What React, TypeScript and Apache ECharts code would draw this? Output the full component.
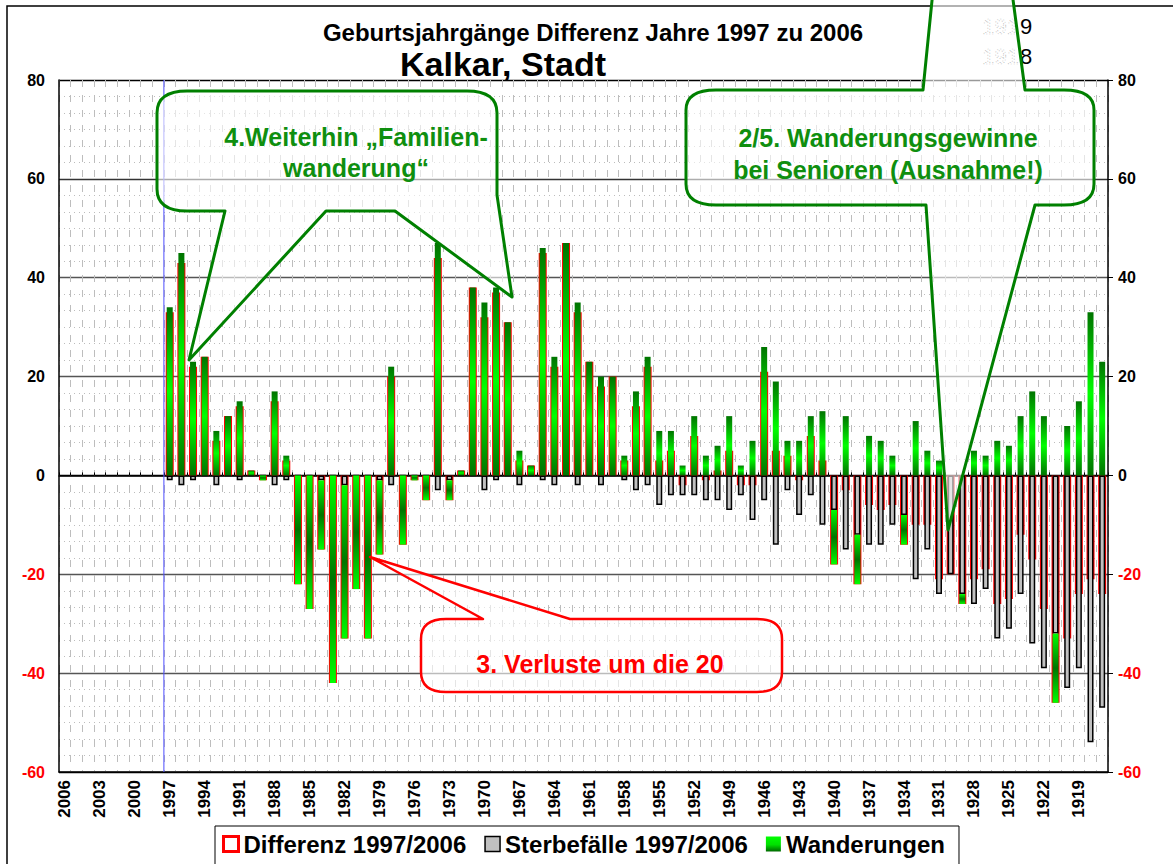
import React, { useEffect, useRef } from "react";
import * as echarts from "echarts";

const FONT = '"Liberation Sans", Arial, Helvetica, sans-serif';

// Birth-year cohorts (x axis), 2006 down to 1917
const categories = [
  "2006", "2005", "2004", "2003", "2002", "2001", "2000", "1999", "1998", "1997",
  "1996", "1995", "1994", "1993", "1992", "1991", "1990", "1989", "1988", "1987",
  "1986", "1985", "1984", "1983", "1982", "1981", "1980", "1979", "1978", "1977",
  "1976", "1975", "1974", "1973", "1972", "1971", "1970", "1969", "1968", "1967",
  "1966", "1965", "1964", "1963", "1962", "1961", "1960", "1959", "1958", "1957",
  "1956", "1955", "1954", "1953", "1952", "1951", "1950", "1949", "1948", "1947",
  "1946", "1945", "1944", "1943", "1942", "1941", "1940", "1939", "1938", "1937",
  "1936", "1935", "1934", "1933", "1932", "1931", "1930", "1929", "1928", "1927",
  "1926", "1925", "1924", "1923", "1922", "1921", "1920", "1919", "1918", "1917",
];

const differenz: (number | null)[] = [
  null, null, null, null, null, null, null, null, null,
  33, 43, 22, 24, 7, 12, 14, 1, -1, 15,
  3, -22, -27, -15, -42, -33, -23, -33, -16, 20,
  -14, -1, -5, 44, -5, 1, 38, 32, 37, 31,
  3, 2, 45, 22, 47, 33, 23, 18, 20, 3,
  14, 22, 3, 5, -2, 8, -1, 1, 5, -2,
  -2, 21, 5, 4, -1, 8, 3, -18, -3, -22,
  -6, -7, -6, -14, -10, -10, -21, -20, -26, -21,
  -19, -26, -25, -12, -17, -27, -46, -33, -24, -21,
  -24,
];

const sterbefaelle: (number | null)[] = [
  null, null, null, null, null, null, null, null, null,
  -1, -2, -1, 0, -2, 0, -1, 0, 0, -2,
  -1, 0, 0, -1, 0, -2, 0, 0, -1, -2,
  0, 0, 0, -3, -1, 0, 0, -3, -1, 0,
  -2, 0, -1, -2, 0, -2, 0, -2, 0, -1,
  -3, -2, -6, -4, -4, -4, -5, -5, -7, -4,
  -9, -5, -14, -3, -8, -4, -10, -7, -15, -12,
  -14, -14, -10, -8, -21, -15, -24, -20, -24, -26,
  -23, -33, -31, -24, -34, -39, -32, -43, -39, -54,
  -47,
];

const wanderungen: (number | null)[] = [
  null, null, null, null, null, null, null, null, null,
  34, 45, 23, 24, 9, 12, 15, 1, -1, 17,
  4, -22, -27, -14, -42, -31, -23, -33, -15, 22,
  -14, -1, -5, 47, -4, 1, 38, 35, 38, 31,
  5, 2, 46, 24, 47, 35, 23, 20, 20, 4,
  17, 24, 9, 9, 2, 12, 4, 6, 12, 2,
  7, 26, 19, 7, 7, 12, 13, -11, 12, -10,
  8, 7, 4, -6, 11, 5, 3, 0, -2, 5,
  4, 7, 6, 12, 17, 12, -14, 10, 15, 33,
  23,
];

const yTicks = [-60, -40, -20, 0, 20, 40, 60, 80];
const seriesNames = ["Differenz 1997/2006", "Sterbefälle 1997/2006", "Wanderungen"];
const cohortStart = "1997";

const titleText = "Geburtsjahrgänge Differenz Jahre 1997 zu 2006";
const subtitleText = "Kalkar, Stadt";
const note1 = ["4.Weiterhin „Familien-", "wanderung“"];
const note2 = ["2/5. Wanderungsgewinne", "bei Senioren (Ausnahme!)"];
const note3 = "3. Verluste um die 20";
const hiddenLabels = ["1919", "1918"];

// Callout outlines (annotation shapes)
const CALLOUT1 =
  "M187 91 H467 Q497 91 497 113 V195 L512 297 L395 211 H326 L189 360 L225 211 H187 Q157 211 157 189 V113 Q157 91 187 91 Z";
const CALLOUT2 =
  "M716 90 H923 L967 -347 L1025 90 H1064 Q1094 90 1094 110 V184 Q1094 205 1064 205 H1035 L948 530 L926 205 H716 Q686 205 686 184 V110 Q686 90 716 90 Z";
const CALLOUT3 =
  "M446 619 H483 L370 557 L570 619 H757 Q782 619 782 639 V672 Q782 692 757 692 H446 Q421 692 421 672 V639 Q421 619 446 619 Z";

echarts.graphic.registerShape("callout1", echarts.graphic.extendPath(CALLOUT1, {}));
echarts.graphic.registerShape("callout2", echarts.graphic.extendPath(CALLOUT2, {}));
echarts.graphic.registerShape("callout3", echarts.graphic.extendPath(CALLOUT3, {}));

const gradPos = {
  type: "linear", x: 0, y: 0, x2: 0, y2: 1,
  colorStops: [
    { offset: 0, color: "#007400" },
    { offset: 0.5, color: "#00ff00" },
    { offset: 1, color: "#007400" },
  ],
};
const gradNeg = {
  type: "linear", x: 0, y: 0, x2: 0, y2: 1,
  colorStops: [
    { offset: 0, color: "#00ff00" },
    { offset: 0.5, color: "#007400" },
    { offset: 1, color: "#00ff00" },
  ],
};
const gradLegend = {
  type: "linear", x: 0, y: 0, x2: 0, y2: 1,
  colorStops: [
    { offset: 0, color: "#00ff00" },
    { offset: 0.55, color: "#00e000" },
    { offset: 1, color: "#006800" },
  ],
};

const GREEN = "#008000";
const GREEN_TEXT = "#0f8f0f";

export default function App() {
  const ref = useRef<HTMLDivElement>(null);

  useEffect(() => {
    if (!ref.current) return;
    const chart = echarts.init(ref.current, null, { renderer: "svg" });

    const startIdx = categories.indexOf(cohortStart);
    const yMin = yTicks[0];
    const yMax = yTicks[yTicks.length - 1];
    const yStep = yTicks[1] - yTicks[0];

    const wanderungenData = wanderungen.map((v) =>
      v === null ? null : { value: v, itemStyle: { color: v >= 0 ? gradPos : gradNeg } }
    );

    const labelColor = (v: any) => (Number(v) < 0 ? "#ff0000" : "#000000");

    const option: any = {
      animation: false,
      textStyle: { fontFamily: FONT },
      grid: { left: 59, right: 65, top: 80, bottom: 92, containLabel: false },
      legend: {
        data: [
          { name: seriesNames[0], itemStyle: { color: "#ffffff", borderColor: "#ff0000", borderWidth: 3 } },
          { name: seriesNames[1], itemStyle: { color: "#c0c0c0", borderColor: "#000000", borderWidth: 1.5 } },
          { name: seriesNames[2] },
        ],
        left: 215,
        top: 826,
        icon: "rect",
        itemWidth: 15,
        itemHeight: 15,
        itemGap: 18,
        selectedMode: false,
        backgroundColor: "#ffffff",
        borderColor: "#000000",
        borderWidth: 1,
        padding: [6, 14, 40, 7],
        textStyle: { fontSize: 24, fontWeight: "bold", color: "#000", fontFamily: FONT },
      },
      xAxis: [
        {
          type: "category",
          data: categories,
          position: "bottom",
          boundaryGap: true,
          axisLine: { onZero: false, lineStyle: { color: "#000", width: 1.5 } },
          axisTick: { show: false },
          axisLabel: {
            interval: 2,
            rotate: 90,
            margin: 8,
            fontSize: 17,
            fontWeight: "bold",
            color: "#000",
            fontFamily: FONT,
          },
          splitLine: {
            show: true,
            interval: 0,
            lineStyle: { color: "#bdbdbd", width: 1, type: [7, 8] },
          },
        },
        {
          type: "category",
          data: categories,
          position: "top",
          boundaryGap: true,
          axisLine: { onZero: true, onZeroAxisIndex: 0, lineStyle: { color: "#000", width: 1.5 } },
          axisTick: { show: true, interval: 0, length: 3, lineStyle: { color: "#000" } },
          axisLabel: { show: false },
          splitLine: { show: false },
        },
        {
          type: "value",
          min: 0,
          max: categories.length,
          show: false,
          splitLine: { show: false },
        },
        {
          type: "category",
          data: categories,
          boundaryGap: true,
          show: false,
          splitLine: { show: false },
        },
      ],
      yAxis: [
        {
          type: "value",
          min: yMin,
          max: yMax,
          interval: yStep,
          position: "left",
          axisLine: { show: true, onZero: false, lineStyle: { color: "#000", width: 1.5 } },
          axisTick: { show: false },
          axisLabel: { fontSize: 16, fontWeight: "bold", margin: 14, color: labelColor, fontFamily: FONT },
          splitLine: {
            show: true,
            lineStyle: {
              color: ["#000", "#555", "#555", "#000", "#555", "#555", "#333", "#000"],
              width: 1.3,
            },
          },
          minorTick: { show: false, splitNumber: 6 },
          minorSplitLine: { show: true, lineStyle: { color: "#bdbdbd", width: 1, type: [1, 4] } },
        },
        {
          type: "value",
          min: yMin,
          max: yMax,
          interval: yStep,
          position: "right",
          axisLine: { show: true, onZero: false, lineStyle: { color: "#000", width: 1.5 } },
          axisTick: { show: true, length: 5, lineStyle: { color: "#000" } },
          axisLabel: { fontSize: 16, fontWeight: "bold", margin: 10, color: labelColor, fontFamily: FONT },
          splitLine: { show: false },
        },
      ],
      series: [
        {
          name: "cohort-start",
          type: "line",
          xAxisIndex: 2,
          yAxisIndex: 0,
          data: [
            [startIdx, yMin],
            [startIdx, yMax],
          ],
          symbol: "none",
          silent: true,
          lineStyle: { color: "#4d4dff", width: 1 },
          z: 1,
        },
        {
          name: seriesNames[0],
          type: "bar",
          xAxisIndex: 3,
          yAxisIndex: 0,
          data: differenz,
          barWidth: 8,
          itemStyle: { color: "#ffffff", borderColor: "#ff0000", borderWidth: 2 },
          z: 2,
        },
        {
          name: seriesNames[1],
          type: "bar",
          xAxisIndex: 0,
          yAxisIndex: 0,
          stack: "bilanz",
          data: sterbefaelle,
          barWidth: 6,
          itemStyle: { color: "#c0c0c0", borderColor: "#000000", borderWidth: 1.5 },
          z: 3,
        },
        {
          name: seriesNames[2],
          type: "bar",
          xAxisIndex: 0,
          yAxisIndex: 0,
          stack: "bilanz",
          data: wanderungenData,
          barWidth: 6,
          itemStyle: { color: gradLegend },
          z: 3,
        },
      ],
      graphic: [
        {
          type: "rect",
          silent: true,
          shape: { x: 7, y: 6, width: 1300, height: 1000 },
          style: { fill: "none", stroke: "#000", lineWidth: 1.5 },
          z: 50,
        },
        {
          type: "text",
          x: 593,
          y: 32,
          z: 100,
          style: {
            text: titleText,
            fontSize: 24,
            fontWeight: "bold",
            fontFamily: FONT,
            fill: "#000",
            align: "center",
            verticalAlign: "middle",
          },
        },
        {
          type: "text",
          x: 503,
          y: 64,
          z: 100,
          style: {
            text: subtitleText,
            fontSize: 34,
            fontWeight: "bold",
            fontFamily: FONT,
            fill: "#000",
            align: "center",
            verticalAlign: "middle",
          },
        },
        ...hiddenLabels.flatMap((lbl, i) => [
          {
            type: "text",
            x: 1019,
            y: 26 + i * 30,
            z: 60,
            style: {
              text: lbl.slice(0, 3),
              fontSize: 22,
              fontFamily: FONT,
              fill: "transparent",
              stroke: "#444",
              lineWidth: 0.7,
              lineDash: [1, 2],
              align: "right",
              verticalAlign: "middle",
            },
          },
          {
            type: "text",
            x: 1020,
            y: 26 + i * 30,
            z: 60,
            style: {
              text: lbl.slice(3),
              fontSize: 22,
              fontFamily: FONT,
              fill: "#000",
              align: "left",
              verticalAlign: "middle",
            },
          },
        ]),
        {
          type: "callout1",
          z: 90,
          style: { fill: "rgba(255,255,255,0.6)", stroke: GREEN, lineWidth: 3, lineJoin: "round" },
        },
        {
          type: "callout2",
          z: 90,
          style: { fill: "rgba(255,255,255,0.6)", stroke: GREEN, lineWidth: 3, lineJoin: "round" },
        },
        {
          type: "callout3",
          z: 90,
          style: { fill: "rgba(255,255,255,0.6)", stroke: "#ff0000", lineWidth: 2.5, lineJoin: "round" },
        },
        ...note1.map((t, i) => ({
          type: "text",
          x: 356,
          y: 137 + i * 31,
          z: 100,
          style: {
            text: t,
            fontSize: 25,
            fontWeight: "bold",
            fontFamily: FONT,
            fill: GREEN_TEXT,
            align: "center",
            verticalAlign: "middle",
          },
        })),
        ...note2.map((t, i) => ({
          type: "text",
          x: 888,
          y: 138 + i * 32,
          z: 100,
          style: {
            text: t,
            fontSize: 25,
            fontWeight: "bold",
            fontFamily: FONT,
            fill: GREEN_TEXT,
            align: "center",
            verticalAlign: "middle",
          },
        })),
        {
          type: "text",
          x: 600,
          y: 664,
          z: 100,
          style: {
            text: note3,
            fontSize: 25,
            fontWeight: "bold",
            fontFamily: FONT,
            fill: "#ff0000",
            align: "center",
            verticalAlign: "middle",
          },
        },
      ],
    };

    chart.setOption(option);
    return () => {
      chart.dispose();
    };
  }, []);

  return (
    <div
      ref={ref}
      style={{ position: "fixed", left: 0, top: 0, width: 1173, height: 864, background: "#ffffff" }}
    />
  );
}
